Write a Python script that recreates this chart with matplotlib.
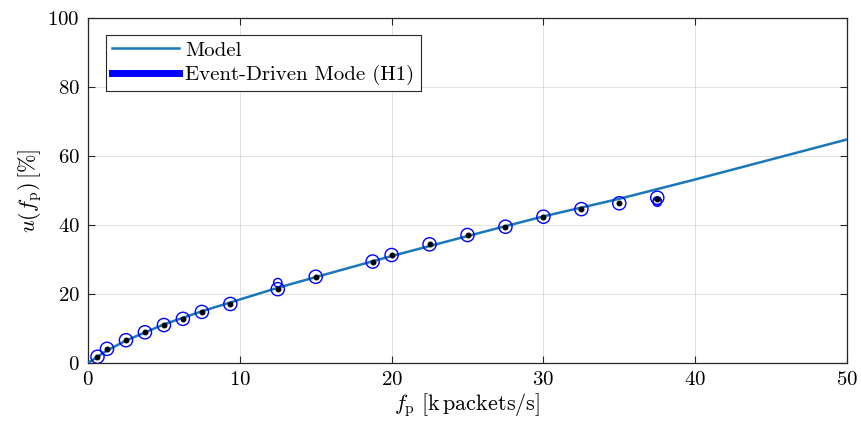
import numpy as np
import matplotlib
matplotlib.use('Agg')
import matplotlib.pyplot as plt
from matplotlib.lines import Line2D

plt.rcParams['font.family'] = 'serif'
plt.rcParams['font.serif'] = ['cmr10']
plt.rcParams['mathtext.fontset'] = 'cm'
plt.rcParams['axes.formatter.use_mathtext'] = True

# model curve
model_f = [0, 1.25, 2.5, 5, 7.5, 10, 12.5, 15, 20, 25, 30, 35, 40, 45, 50]
model_u = [0, 3.6, 6.5, 11.2, 15.0, 18.4, 21.8, 24.9, 31.0, 36.8, 42.5, 47.6, 53.2, 59.0, 64.8]

# measurements (blue circles), marker size in pt
meas_f = [0.625, 1.25, 2.5, 3.75, 5, 6.25, 7.5, 9.375, 12.5, 12.5, 15, 18.75, 20, 22.5,
          25, 27.5, 30, 32.5, 35, 37.5, 37.5, 37.5]
meas_u = [1.8, 4.1, 6.6, 8.9, 11.0, 12.8, 14.8, 17.1, 21.4, 23.3, 25.0, 29.4, 31.3, 34.4,
          37.1, 39.5, 42.4, 44.6, 46.3, 47.9, 46.6, 47.0]
meas_sz = [9.5, 9.5, 9.5, 9.5, 9.5, 9.5, 9.5, 9.5, 9.5, 6, 9.5, 9.5, 9.5, 9.5,
           9.5, 9.5, 9.5, 9.5, 9.5, 9.5, 6, 6]

# representative points (black dots)
dot_f = [0.625, 1.25, 2.5, 3.75, 5, 6.25, 7.5, 9.375, 12.5, 15, 18.75, 20, 22.5,
         25, 27.5, 30, 32.5, 35, 37.5]
dot_u = [1.8, 4.1, 6.6, 8.9, 11.0, 12.8, 14.8, 17.1, 21.4, 25.0, 29.4, 31.3, 34.4,
         37.1, 39.5, 42.4, 44.6, 46.3, 47.6]

model_col = (0.1, 0.47, 0.73)

fig = plt.figure(figsize=(8.62, 4.21), dpi=100)
ax = fig.add_axes([0.1021, 0.1378, 0.8805, 0.8194])

ax.plot(model_f, model_u, color=model_col, lw=1.8, zorder=3)
ax.scatter(meas_f, meas_u, s=np.array(meas_sz)**2, facecolors='none',
           edgecolors='blue', linewidths=1.0, zorder=4)
ax.plot(dot_f, dot_u, 'k.', ms=6.5, zorder=5)

ax.set_xlim(0, 50)
ax.set_ylim(0, 100)
ax.set_xticks([0, 10, 20, 30, 40, 50])
ax.set_yticks([0, 20, 40, 60, 80, 100])
ax.grid(True, color='k', alpha=0.12, lw=0.7)
ax.set_axisbelow(True)
ax.tick_params(direction='in', top=True, right=True, labelsize=15, length=5,
               width=0.8, colors='0.15', labelcolor='k', pad=6)
for sp in ax.spines.values():
    sp.set_color('0.15')
    sp.set_linewidth(0.9)

ax.set_xlabel(r'$f_\mathrm{p}\ [\mathrm{k\,packets/s}]$', fontsize=16, labelpad=1)
ax.set_ylabel(r'$u(f_\mathrm{p})\,[\%]$', fontsize=16, labelpad=2)

handles = [Line2D([], [], color=model_col, lw=1.8),
           Line2D([], [], color='blue', lw=5)]
leg = ax.legend(handles, ['Model', 'Event-Driven Mode (H1)'], loc='upper left',
                bbox_to_anchor=(0.0237, 0.951), borderaxespad=0, fancybox=False,
                edgecolor='0.15', framealpha=1, fontsize=15, handlelength=3.2,
                handletextpad=0.3, borderpad=0.3, labelspacing=0.25)
leg.get_frame().set_linewidth(0.8)

fig.savefig('out.png', dpi=100)
